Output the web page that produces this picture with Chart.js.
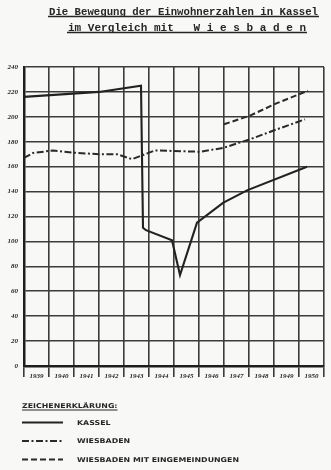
<!DOCTYPE html>
<html><head><meta charset="utf-8">
<script src="https://cdn.jsdelivr.net/npm/chart.js@4"></script>
<style>
html,body{margin:0;padding:0;background:#f8f8f6;}
#wrap{width:331px;height:470px;position:relative;}
canvas{display:block;}
</style>
</head><body>
<div id="wrap"><canvas id="c" width="331" height="470"></canvas></div>
<script>
// ---- data ----
const titleLines = ['Die Bewegung der Einwohnerzahlen in Kassel', 'im Vergleich mit   W i e s b a d e n'];
const years = ['1939','1940','1941','1942','1943','1944','1945','1946','1947','1948','1949','1950'];
const yMin = 0, yMax = 240, yStep = 20;

const kasselX = [1939.0, 1942.0, 1943.68, 1943.76, 1943.88, 1944.92, 1945.24, 1945.92, 1946.96, 1947.92, 1950.32];
const kasselY = [216, 220, 225, 111, 109, 101, 73, 115, 131, 141, 160];

const wiesbadenX = [1939.0, 1939.36, 1940.16, 1941.12, 1942.04, 1942.72, 1943.32, 1944.24, 1946.04, 1946.96, 1948.04, 1949.12, 1950.24];
const wiesbadenY = [167, 171, 173, 171, 170, 170, 166, 173, 172, 175, 182, 190, 198];

const wiesbadenEX = [1947.0, 1948.04, 1949.12, 1950.36];
const wiesbadenEY = [194, 201, 211, 221];

const legendTitle = 'ZEICHENERKLÄRUNG:';
const seriesNames = ['KASSEL', 'WIESBADEN', 'WIESBADEN MIT EINGEMEINDUNGEN'];

// ---- helpers ----
const pts = (xs, ys) => xs.map((x, i) => ({x: x, y: ys[i]}));
const INK = '#262626';
const GRID = '#3c3c3c';

function stretchText(ctx, text, x, y, sx) {
  ctx.save();
  ctx.translate(x, y);
  ctx.scale(sx, 1);
  ctx.fillText(text, 0, 0);
  ctx.restore();
}

const decorPlugin = {
  id: 'decor',
  afterDraw(chart) {
    const ctx = chart.ctx;
    ctx.save();
    ctx.fillStyle = INK;
    ctx.strokeStyle = INK;
    ctx.textAlign = 'left';
    ctx.textBaseline = 'alphabetic';
    // title
    ctx.font = 'bold 10.8px "Liberation Mono"';
    const tl = [[49, 14.5, 269], [68, 30.5, 238]];
    titleLines.forEach((t, i) => {
      const [x, y, w] = tl[i];
      stretchText(ctx, t, x, y, w / ctx.measureText(t).width);
      ctx.lineWidth = 1.3;
      ctx.beginPath(); ctx.moveTo(x - 1, y + 2); ctx.lineTo(x + w + 1, y + 2); ctx.stroke();
    });
    // legend
    ctx.font = 'bold 6.6px "DejaVu Sans"';
    const sx = 162 / ctx.measureText(seriesNames[2]).width;
    const hw = ctx.measureText(legendTitle).width * sx;
    stretchText(ctx, legendTitle, 22, 408, sx);
    ctx.lineWidth = 1.1;
    ctx.beginPath(); ctx.moveTo(22, 410); ctx.lineTo(22 + hw, 410); ctx.stroke();
    const rows = [422.5, 441, 459.5];
    chart.data.datasets.forEach((ds, i) => {
      const y = rows[i];
      ctx.save();
      ctx.lineWidth = ds.borderWidth;
      ctx.strokeStyle = ds.borderColor;
      ctx.setLineDash(ds.borderDash || []);
      ctx.beginPath(); ctx.moveTo(22, y); ctx.lineTo(63, y); ctx.stroke();
      ctx.restore();
      ctx.textBaseline = 'middle';
      stretchText(ctx, seriesNames[i], 77, y + 0.5, sx);
    });
    ctx.restore();
  }
};

const tickFont = {family: '"Liberation Serif"', size: 7, style: 'italic', weight: 'bold'};

new Chart(document.getElementById('c'), {
  type: 'line',
  data: {
    datasets: [
      {label: seriesNames[0], data: pts(kasselX, kasselY), borderColor: '#222', borderWidth: 2.1, borderDash: [], xAxisID: 'xl', yAxisID: 'y'},
      {label: seriesNames[1], data: pts(wiesbadenX, wiesbadenY), borderColor: '#2a2a2a', borderWidth: 2, borderDash: [7, 2.5, 2, 2.5], xAxisID: 'xl', yAxisID: 'y'},
      {label: seriesNames[2], data: pts(wiesbadenEX, wiesbadenEY), borderColor: '#2a2a2a', borderWidth: 2, borderDash: [6, 3], xAxisID: 'xl', yAxisID: 'y'}
    ]
  },
  options: {
    responsive: false,
    animation: false,
    devicePixelRatio: 1,
    layout: {padding: {left: 0, right: 7, top: 67, bottom: 90}},
    elements: {point: {radius: 0}, line: {tension: 0, borderJoinStyle: 'miter'}},
    plugins: {legend: {display: false}, title: {display: false}, tooltip: {enabled: false}},
    scales: {
      x: {
        type: 'category', labels: years, offset: true, position: 'bottom',
        grid: {offset: true, color: GRID, lineWidth: 1.6, drawTicks: true, tickLength: 11, tickColor: GRID, tickWidth: 1.6},
        border: {display: true, color: '#1e1e1e', width: 2.5},
        ticks: {padding: -5, color: INK, font: tickFont, maxRotation: 0, autoSkip: false},
        afterFit(s) { s.height = 14; }
      },
      xl: {type: 'linear', min: 1939, max: 1951, display: false},
      y: {
        type: 'linear', min: yMin, max: yMax, position: 'left',
        ticks: {stepSize: yStep, padding: 6, color: INK, font: tickFont},
        grid: {color: GRID, lineWidth: 1.6, drawTicks: false},
        border: {display: true, color: '#1e1e1e', width: 2.5},
        afterFit(s) { s.width = 24; }
      }
    }
  },
  plugins: [decorPlugin]
});
</script>
</body></html>
